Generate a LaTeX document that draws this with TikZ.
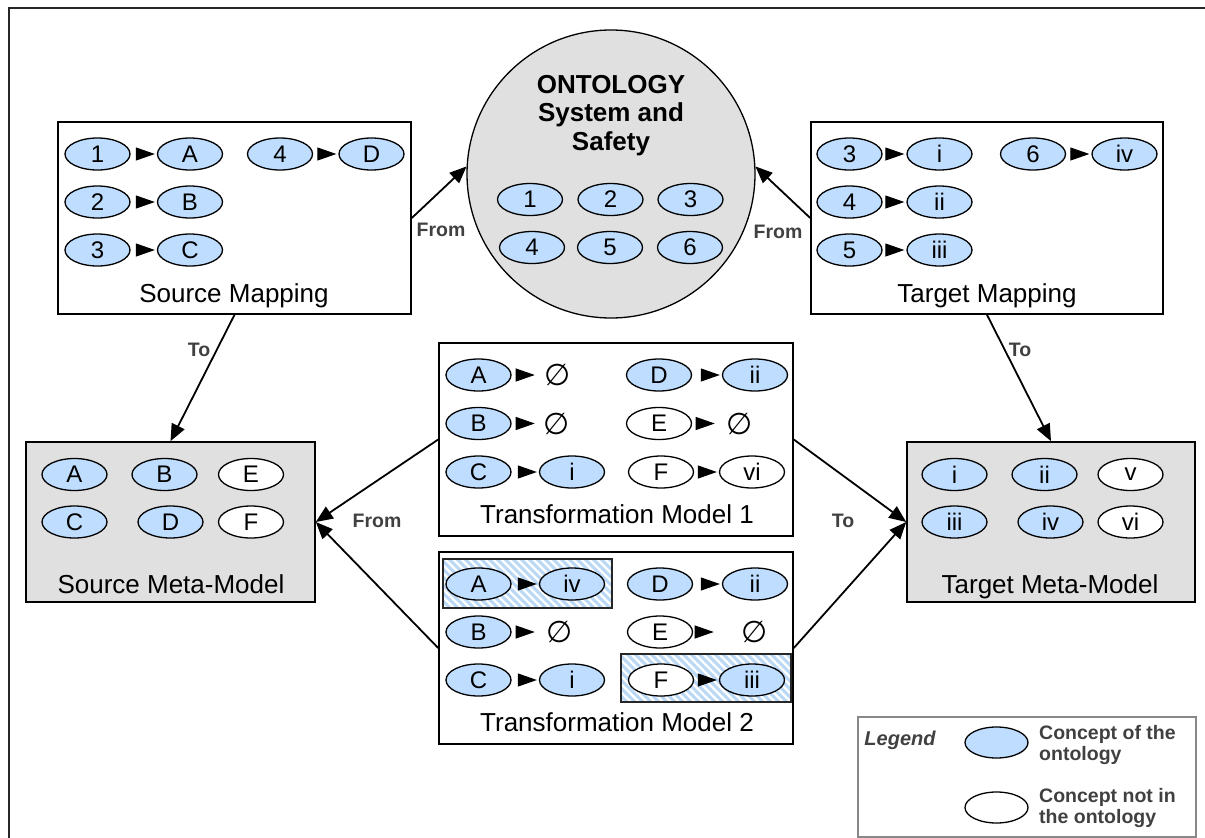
\documentclass[tikz,border=0pt]{standalone}
\usepackage{fontspec}
\setmainfont{Liberation Sans}
\newfontfamily\symfont{DejaVu Sans}
\usetikzlibrary{arrows.meta,shapes.geometric}
\definecolor{conceptblue}{RGB}{191,222,255}
\definecolor{panelgray}{RGB}{224,224,224}
\definecolor{labelgray}{RGB}{64,64,64}
\definecolor{stripeblue}{RGB}{186,216,246}
\definecolor{legendgray}{RGB}{136,136,136}

\begin{document}
\begin{tikzpicture}[x=1pt,y=-1pt,
  concept/.style={ellipse,draw,line width=1.3pt,fill=conceptblue,minimum width=65pt,
    minimum height=32pt,inner sep=0pt,font=\fontsize{24}{24}\selectfont},
  foreign/.style={concept,fill=white},
  nullset/.style={inner sep=0pt,minimum width=22pt,font=\symfont\fontsize{30}{30}\selectfont},
  maparrow/.style={-{Triangle[length=19pt,width=13pt]},line width=1pt,shorten <=5pt,shorten >=2pt},
  tonull/.style={maparrow,shorten >=#1},
  panel/.style={draw,line width=1.6pt,fill=white,inner sep=0pt},
  metapanel/.style={panel,fill=panelgray},
  caption/.style={anchor=base,font=\fontsize{26}{26}\selectfont},
  link/.style={-{Triangle[length=17pt,width=14pt]},line width=1.8pt},
  linklabel/.style={font=\bfseries\fontsize{19.5}{19.5}\selectfont,text=labelgray},
  stripe/.style={stripeblue,line width=3pt},
  legendtext/.style={anchor=west,align=left,inner sep=0pt,text=labelgray,
    font=\bfseries\fontsize{19.5}{21}\selectfont}
]
\useasboundingbox (0,0) rectangle (1205,838);

% outer frame
\draw[line width=2.5pt,black!85] (9,838) -- (9,8) -- (1205,8);

% ---------- panels ----------
\node[panel,minimum width=353pt,minimum height=192pt] (smap) at (234.5,218) {};
\node[panel,minimum width=352pt,minimum height=192pt] (tmap) at (987,218) {};
\node[panel,minimum width=354pt,minimum height=193pt] (tm1) at (616,439.5) {};
\node[panel,minimum width=354pt,minimum height=192pt] (tm2) at (616,648) {};
\node[metapanel,minimum width=289pt,minimum height=160pt] (smeta) at (170.5,522) {};
\node[metapanel,minimum width=288pt,minimum height=160pt] (tmeta) at (1051,522) {};
\node[circle,draw,line width=1.3pt,fill=panelgray,minimum size=288pt,inner sep=0pt] (onto) at (611,174) {};
\node[draw=legendgray,line width=1.2pt,minimum width=338pt,minimum height=120pt,inner sep=0pt] (legend) at (1027,777) {};

% ---------- connectors ----------
\draw[link] (smap.east) -- (onto.177);
\draw[link] (tmap.west) -- (onto.3);
\draw[link] (smap.south) -- (smeta.north);
\draw[link] (tmap.south) -- (tmeta.north);
\draw[link] (tm1.west) -- (smeta.east);
\draw[link] (tm2.west) -- (smeta.east);
\draw[link] (tm1.east) -- (tmeta.west);
\draw[link] (tm2.east) -- (tmeta.west);

\node[linklabel] (fromL) at (441,230) {From};
\node[linklabel] (fromR) at (778,232) {From};
\node[linklabel] (toL) at (199,350) {To};
\node[linklabel] (toR) at (1020,350) {To};
\node[linklabel] (fromM) at (377,521) {From};
\node[linklabel] (toM) at (843,521) {To};

% ---------- ontology ----------
\node[anchor=north,align=center,inner sep=0pt,font=\bfseries\fontsize{26}{28.5}\selectfont]
  (ontotitle) at (611,75) {ONTOLOGY\\System and\\Safety};
\node[concept] (o1) at (530,199.5) {1};
\node[concept] (o2) at (610.5,199.5) {2};
\node[concept] (o3) at (690.5,199.5) {3};
\node[concept] (o4) at (532,247.5) {4};
\node[concept] (o5) at (610,247.5) {5};
\node[concept] (o6) at (690,247.5) {6};

% ---------- source mapping ----------
\node[concept] (s1) at (97.5,154) {1};
\node[concept] (sA) at (190,154) {A};
\node[concept] (s4) at (280,154) {4};
\node[concept] (sD) at (371.5,154) {D};
\node[concept] (s2) at (97.5,202) {2};
\node[concept] (sB) at (190,202) {B};
\node[concept] (s3) at (97.5,250) {3};
\node[concept] (sC) at (190,250) {C};
\draw[maparrow] (s1) -- (sA);
\draw[maparrow] (s4) -- (sD);
\draw[maparrow] (s2) -- (sB);
\draw[maparrow] (s3) -- (sC);
\node[caption] (smapcap) at (234,302) {Source Mapping};

% ---------- target mapping ----------
\node[concept] (t3) at (849.5,154) {3};
\node[concept] (ti) at (939.5,154) {i};
\node[concept] (t6) at (1033,154) {6};
\node[concept] (tiv) at (1124.5,154) {iv};
\node[concept] (t4) at (849.5,202) {4};
\node[concept] (tii) at (939.5,202) {ii};
\node[concept] (t5) at (849.5,250) {5};
\node[concept] (tiii) at (939.5,250) {iii};
\draw[maparrow,shorten <=4pt] (t3) -- (ti);
\draw[maparrow] (t6) -- (tiv);
\draw[maparrow,shorten <=4pt] (t4) -- (tii);
\draw[maparrow,shorten <=4pt] (t5) -- (tiii);
\node[caption] (tmapcap) at (987,302) {Target Mapping};

% ---------- transformation model 1 ----------
\node[concept] (aA) at (478.5,375) {A};
\node[nullset] (aA0) at (558,375) {∅};
\node[concept] (aD) at (659,375) {D};
\node[concept] (aii) at (755,375) {ii};
\node[concept] (aB) at (478.5,423.5) {B};
\node[nullset] (aB0) at (557,423.5) {∅};
\node[foreign] (aE) at (659,423.5) {E};
\node[nullset] (aE0) at (740,423.5) {∅};
\node[concept] (aC) at (478.5,472) {C};
\node[concept] (ai) at (572,472) {i};
\node[foreign] (aF) at (661,472) {F};
\node[foreign] (avi) at (752,472) {vi};
\draw[tonull=10pt] (aA) -- (aA0);
\draw[maparrow,shorten <=10pt] (aD) -- (aii);
\draw[tonull=9pt] (aB) -- (aB0);
\draw[tonull=12pt] (aE) -- (aE0);
\draw[maparrow,shorten <=7pt] (aC) -- (ai);
\draw[maparrow] (aF) -- (avi);
\node[caption] (tm1cap) at (617,523) {Transformation Model 1};

% ---------- transformation model 2 ----------
\begin{scope}
  \clip (443,559) rectangle (612,608);
  \foreach \k in {0,...,30} \draw[stripe] (443-50+\k*8,559) -- ++(50,50);
\end{scope}
\draw[line width=1.6pt,black!85] (443,559) rectangle (612,608);
\begin{scope}
  \clip (621,654) rectangle (791,702);
  \foreach \k in {0,...,30} \draw[stripe] (621-50+\k*8,654) -- ++(50,50);
\end{scope}
\draw[line width=1.6pt,black!85] (621,654) rectangle (791,702);

\node[concept] (bA) at (478.5,584) {A};
\node[concept] (biv) at (572,584) {iv};
\node[concept] (bD) at (660,584) {D};
\node[concept] (bii) at (755,584) {ii};
\node[concept] (bB) at (478.5,632) {B};
\node[nullset] (bB0) at (560,632) {∅};
\node[foreign] (bE) at (660,632) {E};
\node[nullset] (bE0) at (755,632) {∅};
\node[concept] (bC) at (478.5,680) {C};
\node[concept] (bi) at (572,680) {i};
\node[foreign] (bF) at (661,680) {F};
\node[concept] (biii) at (752,680) {iii};
\draw[maparrow,shorten <=7pt] (bA) -- (biv);
\draw[maparrow,shorten <=9pt] (bD) -- (bii);
\draw[tonull=12pt] (bB) -- (bB0);
\draw[tonull=28pt] (bE) -- (bE0);
\draw[maparrow,shorten <=7pt] (bC) -- (bi);
\draw[maparrow] (bF) -- (biii);
\node[caption] (tm2cap) at (617,731) {Transformation Model 2};

% ---------- source meta-model ----------
\node[concept] (mA) at (74.5,474.5) {A};
\node[concept] (mB) at (164.5,474.5) {B};
\node[foreign] (mE) at (251,474.5) {E};
\node[concept] (mC) at (74.5,522) {C};
\node[concept] (mD) at (170.5,522) {D};
\node[foreign] (mF) at (251,522) {F};
\node[caption] (smetacap) at (171,593) {Source Meta-Model};

% ---------- target meta-model ----------
\node[concept] (ni) at (954.5,474.5) {i};
\node[concept] (nii) at (1044.5,474.5) {ii};
\node[foreign] (nv) at (1130.5,474.5) {v};
\node[concept] (niii) at (954.5,522) {iii};
\node[concept] (niv) at (1050.5,522) {iv};
\node[foreign] (nvi) at (1130.5,522) {vi};
\node[caption] (tmetacap) at (1050,593) {Target Meta-Model};

% ---------- legend ----------
\node[text=labelgray,font=\bfseries\itshape\fontsize{20}{20}\selectfont] (legtitle) at (900,740) {Legend};
\node[concept,minimum width=63pt,minimum height=31pt] (legin) at (996.5,742.5) {};
\node[foreign,minimum width=63pt,minimum height=31pt] (legout) at (996.5,807.5) {};
\node[legendtext] (legintext) at (1039,744.5) {Concept of the\\ontology};
\node[legendtext] (legouttext) at (1039,808) {Concept not in\\the ontology};
\end{tikzpicture}
\end{document}
